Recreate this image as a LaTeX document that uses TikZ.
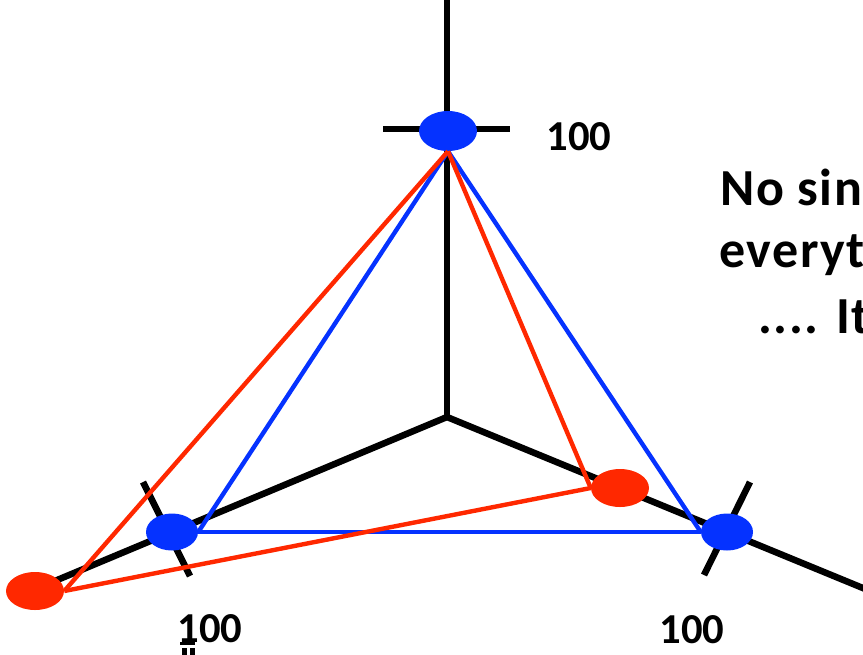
\documentclass[tikz,border=0pt]{standalone}
\usepackage{fontspec}
\setmainfont{Carlito}
\usetikzlibrary{shapes.geometric}
\definecolor{dotblue}{RGB}{5,50,255}
\definecolor{dotred}{RGB}{255,40,0}

\begin{document}
\begin{tikzpicture}[x=0.75pt,y=-0.75pt,
  axis/.style={line width=4.9pt},
  edge/.style={line width=3.3pt},
  bdot/.style={ellipse,inner sep=0pt,fill=dotblue,minimum width=39pt,minimum height=27.75pt},
  rdot/.style={ellipse,inner sep=0pt,fill=dotred,minimum width=43.5pt,minimum height=28.5pt},
  num/.style={font=\fontsize{32}{38}\selectfont\bfseries,inner sep=0pt,anchor=base},
  txt/.style={font=\fontsize{39}{46}\selectfont\bfseries\addfontfeature{LetterSpace=3},inner sep=0pt,anchor=base west}]
\useasboundingbox (0,0) rectangle (863,654);
\clip (0,0) rectangle (863,654);
% axes and ticks
\coordinate (o) at (447,417);
\coordinate (a0) at (447,-5);
\coordinate (a1) at (50,583);
\coordinate (a2) at (875,593);
\coordinate (t0a) at (383,129);
\coordinate (t0b) at (510,129);
\coordinate (t1a) at (143,482);
\coordinate (t1b) at (190,576);
\coordinate (t2a) at (750,482);
\coordinate (t2b) at (704,575);
\draw[axis] (o) -- (a0);
\draw[axis] (o) -- (a1);
\draw[axis] (o) -- (a2);
\draw[axis] (t0a) -- (t0b);
\draw[axis] (t1a) -- (t1b);
\draw[axis] (t2a) -- (t2b);
% points
\node[bdot,minimum width=43.5pt,minimum height=30pt] (b0) at (448,131) {};
\node[bdot] (b1) at (172,532) {};
\node[bdot] (b2) at (727,532) {};
\node[rdot] (r1) at (35,591) {};
\node[rdot] (r2) at (620,488) {};
\draw[edge,dotblue] (b0.south) -- (b1.east);
\draw[edge,dotblue] (b0.south) -- (b2.west);
\draw[edge,dotblue] (b1.east) -- (b2.west);
\draw[edge,dotred] (b0.south) -- (r1.east);
\draw[edge,dotred] (b0.south) -- (r2.west);
\draw[edge,dotred] (r1.east) -- (r2.west);
% labels
\node[num] (l0) at (579,150) {100};
\node[num] (l1) at (210,642) {100};
\node[num] (l2) at (692,643) {100};
\fill (180,642) rectangle (195,645);
\fill (182,648) rectangle (187,655);
\fill (190,648) rectangle (195,655);
\node[txt] (s1) at (720,205) {No single};
\node[txt] (s2) at (719,267) {everything};
\node[txt] (s3) at (758,333) {.... It’s};
\end{tikzpicture}
\end{document}
